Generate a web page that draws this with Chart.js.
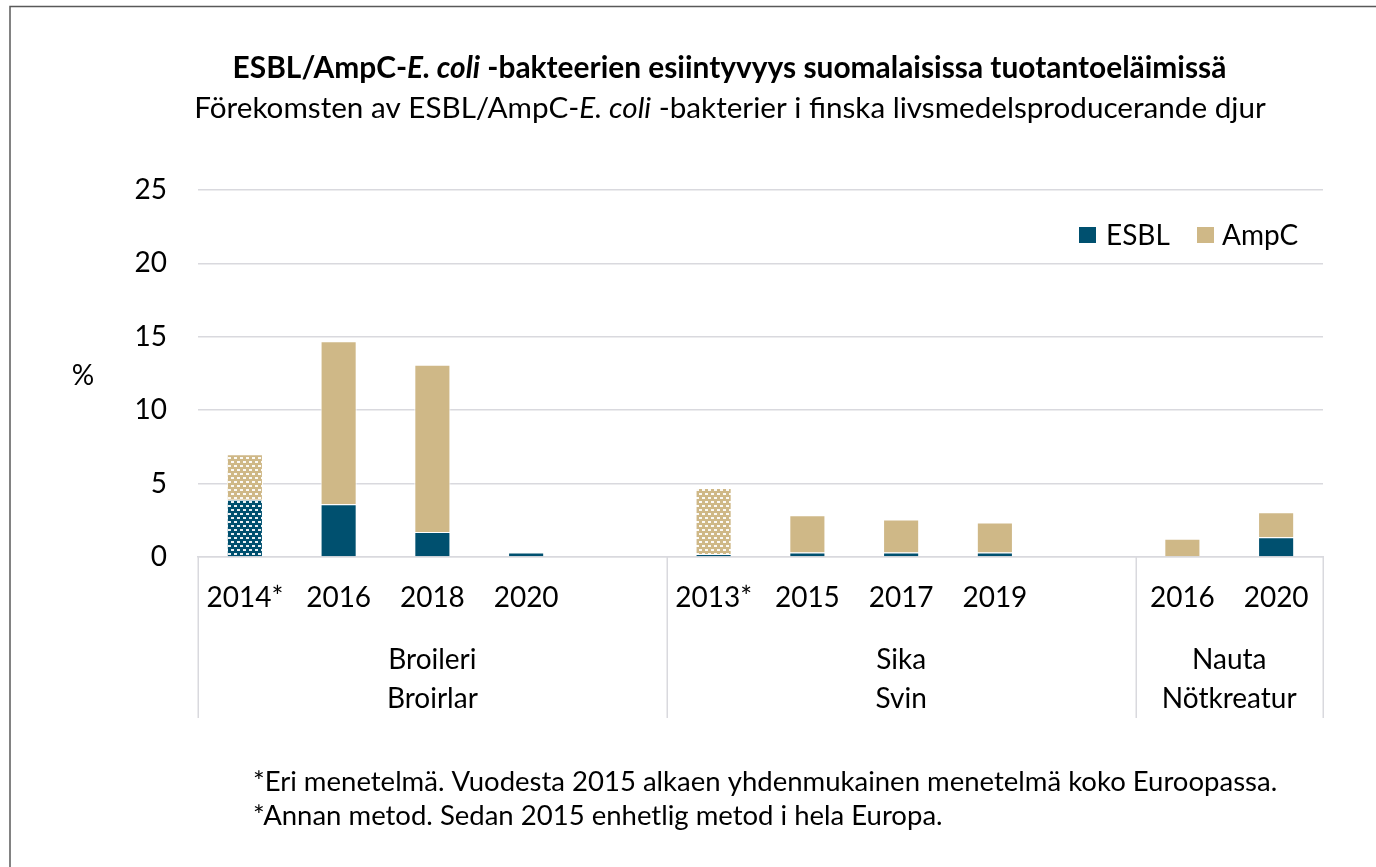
<!DOCTYPE html>
<html>
<head>
<meta charset="utf-8">
<script src="https://cdn.jsdelivr.net/npm/chart.js@4.4.1/dist/chart.umd.min.js"></script>
<style>
  html, body { margin:0; padding:0; background:#fff; }
  canvas { display:block; }
</style>
</head>
<body>
<canvas id="c" width="1376" height="867"></canvas>
<script>
// ---- data ----
const categories = ['2014*', '2016', '2018', '2020', '', '2013*', '2015', '2017', '2019', '', '2016', '2020'];
const esblValues = [3.9, 3.6, 1.7, 0.3, null, 0.2, 0.3, 0.3, 0.3, null, 0, 1.35];
const ampcValues = [3.1, 11.1, 11.4, 0, null, 4.5, 2.55, 2.25, 2.05, null, 1.25, 1.7];
const otherMethod = [true, false, false, false, false, true, false, false, false, false, false, false];
const groupNames = [['Broileri', 'Broirlar'], ['Sika', 'Svin'], ['Nauta', 'Nötkreatur']];
const groupSizes = [5, 5, 2];
const yTicks = [0, 5, 10, 15, 20, 25];
const seriesNames = ['ESBL', 'AmpC'];
const titleParts = [['ESBL/AmpC-', false], ['E. coli', true], [' -bakteerien esiintyvyys suomalaisissa tuotantoeläimissä', false]];
const subtitleParts = [['Förekomsten av ESBL/AmpC-', false], ['E. coli', true], [' -bakterier i finska livsmedelsproducerande djur', false]];
const footnotes = ['*Eri menetelmä. Vuodesta 2015 alkaen yhdenmukainen menetelmä koko Euroopassa.',
                   '*Annan metod. Sedan 2015 enhetlig metod i hela Europa.'];

// ---- styles ----
const ESBL_COLOR = '#00506f';
const AMPC_COLOR = '#cfb887';
const GRID = '#d9d9de';
const FONT = 'Lato';

function makePattern(base) {
  const c = document.createElement('canvas');
  c.width = 6; c.height = 8;
  const g = c.getContext('2d');
  g.fillStyle = base; g.fillRect(0, 0, 6, 8);
  g.fillStyle = 'rgba(255,255,255,0.92)';
  g.fillRect(0, 1, 3, 2);
  g.fillRect(3, 5, 3, 2);
  return document.getElementById('c').getContext('2d').createPattern(c, 'repeat');
}
const patESBL = makePattern(ESBL_COLOR);
const patAMPC = makePattern(AMPC_COLOR);

function drawParts(ctx, parts, size, bold, cx, baseline, targetW) {
  const fontFor = (it, s) => (it ? 'italic ' : '') + (bold ? 'bold ' : '') + s + 'px ' + FONT;
  let s = size;
  if (targetW) {
    let w = 0;
    parts.forEach(p => { ctx.font = fontFor(p[1], 100); w += ctx.measureText(p[0]).width; });
    s = 100 * targetW / w;
  }
  let total = 0;
  const widths = parts.map(p => { ctx.font = fontFor(p[1], s); const w = ctx.measureText(p[0]).width; total += w; return w; });
  let x = cx - total / 2;
  ctx.textAlign = 'left';
  ctx.textBaseline = 'alphabetic';
  ctx.fillStyle = '#000';
  parts.forEach((p, i) => { ctx.font = fontFor(p[1], s); ctx.fillText(p[0], x, baseline); x += widths[i]; });
}

const decor = {
  id: 'decor',
  beforeDraw(chart) {
    const ctx = chart.ctx;
    ctx.save();
    ctx.fillStyle = '#fff';
    ctx.fillRect(0, 0, chart.width, chart.height);
    ctx.restore();
  },
  afterDraw(chart) {
    const ctx = chart.ctx;
    const area = chart.chartArea;
    const xs = chart.scales.x;
    ctx.save();
    // frame
    ctx.strokeStyle = '#595959';
    ctx.lineWidth = 1.5;
    ctx.beginPath();
    ctx.moveTo(10, chart.height + 2);
    ctx.lineTo(10, 6.5);
    ctx.lineTo(chart.width + 2, 6.5);
    ctx.stroke();

    // titles
    drawParts(ctx, titleParts, 0, true, 729.5, 78, 994);
    drawParts(ctx, subtitleParts, 0, false, 730, 118, 1072);

    // % label
    ctx.font = '28px ' + FONT;
    ctx.fillStyle = '#000';
    ctx.textAlign = 'center';
    ctx.textBaseline = 'middle';
    ctx.fillText('%', 83, 376);

    // legend
    const legendItems = [[seriesNames[0], ESBL_COLOR, 1079, 1106], [seriesNames[1], AMPC_COLOR, 1197, 1222]];
    legendItems.forEach(([t, col, sx, tx]) => {
      ctx.fillStyle = col;
      ctx.fillRect(sx, 227, 17, 16);
      ctx.fillStyle = '#000';
      ctx.textAlign = 'left';
      ctx.textBaseline = 'middle';
      ctx.font = '28px ' + FONT;
      ctx.fillText(t, tx, 236);
    });

    // group separators and labels
    const n = categories.length;
    const cw = (area.right - area.left) / n;
    ctx.strokeStyle = GRID;
    ctx.lineWidth = 1.5;
    let k = 0;
    const bounds = [0];
    groupSizes.forEach(sz => { k += sz; bounds.push(k); });
    bounds.forEach(b => {
      const x = Math.round(area.left + b * cw) + 0.25;
      ctx.beginPath();
      ctx.moveTo(x, area.bottom);
      ctx.lineTo(x, 718);
      ctx.stroke();
    });
    ctx.fillStyle = '#000';
    ctx.textAlign = 'center';
    ctx.textBaseline = 'alphabetic';
    ctx.font = '28px ' + FONT;
    groupNames.forEach((names, gi) => {
      const cx = area.left + (bounds[gi] + bounds[gi + 1]) / 2 * cw;
      ctx.fillText(names[0], cx, 669);
      ctx.fillText(names[1], cx, 708);
    });

    // footnotes
    ctx.textAlign = 'left';
    let w = 0;
    ctx.font = '100px ' + FONT;
    w = ctx.measureText(footnotes[0]).width;
    const fs = 100 * 1025 / w;
    ctx.font = fs + 'px ' + FONT;
    ctx.fillText(footnotes[0], 253, 791);
    ctx.fillText(footnotes[1], 253, 825);
    ctx.restore();
  }
};

new Chart(document.getElementById('c'), {
  type: 'bar',
  data: {
    labels: categories,
    datasets: [
      {
        label: seriesNames[0],
        data: esblValues,
        backgroundColor: c => otherMethod[c.dataIndex] ? patESBL : ESBL_COLOR,
        borderColor: '#ffffff',
        borderWidth: 1
      },
      {
        label: seriesNames[1],
        data: ampcValues,
        backgroundColor: c => otherMethod[c.dataIndex] ? patAMPC : AMPC_COLOR,
        borderColor: '#ffffff',
        borderWidth: 1
      }
    ]
  },
  options: {
    responsive: false,
    animation: false,
    events: [],
    layout: { padding: { left: 0, right: 53, top: 190, bottom: 0 } },
    datasets: { bar: { categoryPercentage: 1, barPercentage: 0.385 } },
    plugins: { legend: { display: false }, tooltip: { enabled: false }, title: { display: false } },
    scales: {
      x: {
        stacked: true,
        grid: { display: false, drawTicks: false },
        border: { display: true, color: GRID, width: 1.5 },
        ticks: { font: { family: FONT, size: 28 }, color: '#000', padding: 24, maxRotation: 0, autoSkip: false },
        afterFit(s) { s.height = 310; }
      },
      y: {
        stacked: true,
        min: 0, max: 25,
        afterBuildTicks(s) { s.ticks = yTicks.map(v => ({ value: v })); },
        grid: { color: GRID, lineWidth: 1.5, drawTicks: false },
        border: { display: false },
        ticks: { font: { family: FONT, size: 28 }, color: '#000', padding: 31 },
        afterFit(s) { s.width = 198; }
      }
    }
  },
  plugins: [decor]
});
</script>
</body>
</html>
